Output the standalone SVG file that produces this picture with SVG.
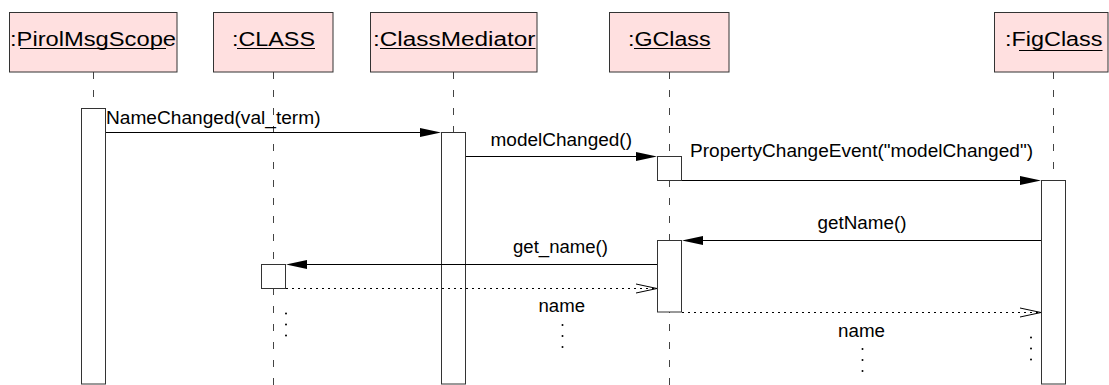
<svg xmlns="http://www.w3.org/2000/svg" width="1109" height="385" viewBox="0 0 1109 385">
  <style>
    .obj { fill: #ffe0e0; stroke: #333; stroke-width: 1; }
    .act { fill: #ffffff; stroke: #333; stroke-width: 1; }
    .life { stroke: #444; stroke-width: 1; stroke-dasharray: 7 11; fill: none; }
    .msg { stroke: #000; stroke-width: 1; fill: none; }
    .ret { stroke: #000; stroke-width: 1; fill: none; stroke-dasharray: 2 4; }
    .head { fill: #000; stroke: none; }
    .open { fill: none; stroke: #000; stroke-width: 1; }
    .ul { stroke: #000; stroke-width: 1; }
    .name { font-family: "Liberation Sans", Arial, sans-serif; font-size: 20px; fill: #000; }
    .lbl { font-family: "Liberation Sans", Arial, sans-serif; font-size: 17.5px; fill: #000; }
    .dot { fill: #000; }
  </style>

  <!-- lifelines -->
  <g id="lifelines">
    <line class="life" x1="93.5" y1="72" x2="93.5" y2="108"/>
    <line class="life" x1="273.5" y1="72" x2="273.5" y2="385"/>
    <line class="life" x1="453.5" y1="72" x2="453.5" y2="132"/>
    <line class="life" x1="669.5" y1="72" x2="669.5" y2="385"/>
    <line class="life" x1="1053.5" y1="72" x2="1053.5" y2="180"/>
  </g>

  <!-- object heads -->
  <g id="pirolMsgScope">
    <rect class="obj" x="9.5" y="12.5" width="167.5" height="59.5"/>
    <text class="name" x="10" y="46" textLength="166" lengthAdjust="spacingAndGlyphs">:PirolMsgScope</text>
    <line class="ul" x1="20" y1="48.5" x2="166" y2="48.5"/>
    <rect class="act" x="81.5" y="108.5" width="24" height="275.5"/>
  </g>

  <g id="class">
    <rect class="obj" x="213.5" y="12.5" width="119.5" height="59.5"/>
    <text class="name" x="232" y="46" textLength="83" lengthAdjust="spacingAndGlyphs">:CLASS</text>
    <line class="ul" x1="237" y1="48.5" x2="315" y2="48.5"/>
    <rect class="act" x="261.5" y="264.5" width="24" height="24"/>
  </g>

  <g id="classMediator">
    <rect class="obj" x="370.5" y="12.5" width="166.5" height="59.5"/>
    <text class="name" x="373" y="46" textLength="162.5" lengthAdjust="spacingAndGlyphs">:ClassMediator</text>
    <line class="ul" x1="380" y1="48.5" x2="535.5" y2="48.5"/>
    <rect class="act" x="441.5" y="132.5" width="24" height="251.5"/>
  </g>

  <g id="gClass">
    <rect class="obj" x="609.5" y="12.5" width="119.5" height="59.5"/>
    <text class="name" x="628" y="46" textLength="82.5" lengthAdjust="spacingAndGlyphs">:GClass</text>
    <line class="ul" x1="634" y1="48.5" x2="710.5" y2="48.5"/>
    <rect class="act" x="657.5" y="156.5" width="24" height="24"/>
    <rect class="act" x="657.5" y="240.5" width="24" height="71.5"/>
  </g>

  <g id="figClass">
    <rect class="obj" x="994.5" y="12.5" width="113.5" height="59.5"/>
    <text class="name" x="1005" y="46" textLength="97.5" lengthAdjust="spacingAndGlyphs">:FigClass</text>
    <line class="ul" x1="1019" y1="50.5" x2="1102.5" y2="50.5"/>
    <rect class="act" x="1041.5" y="180.5" width="24" height="203.5"/>
  </g>

  <!-- messages and returns -->
  <g id="connectors">
    <line class="msg" x1="106" y1="132.5" x2="421" y2="132.5"/>
    <polygon class="head" points="441,132.5 420,128 420,137"/>
    <text class="lbl" x="106" y="124" textLength="214.5" lengthAdjust="spacingAndGlyphs">NameChanged(val_term)</text>

    <line class="msg" x1="466" y1="156.5" x2="637" y2="156.5"/>
    <polygon class="head" points="657,156.5 636,152 636,161"/>
    <text class="lbl" x="490.5" y="146" textLength="141.5" lengthAdjust="spacingAndGlyphs">modelChanged()</text>

    <line class="msg" x1="682" y1="180.5" x2="1021" y2="180.5"/>
    <polygon class="head" points="1041,180.5 1020,176 1020,185"/>
    <text class="lbl" x="690" y="157" textLength="343" lengthAdjust="spacingAndGlyphs">PropertyChangeEvent("modelChanged")</text>

    <line class="msg" x1="1041" y1="240.5" x2="702" y2="240.5"/>
    <polygon class="head" points="682,240.5 703,236 703,245"/>
    <text class="lbl" x="817.5" y="229" textLength="89" lengthAdjust="spacingAndGlyphs">getName()</text>

    <line class="msg" x1="657" y1="264.5" x2="306" y2="264.5"/>
    <polygon class="head" points="286,264.5 307,260 307,269"/>
    <text class="lbl" x="513" y="253" textLength="95" lengthAdjust="spacingAndGlyphs">get_name()</text>

    <line class="ret" x1="286" y1="288.5" x2="656" y2="288.5"/>
    <polyline class="open" points="636,284 657,288.5 636,293"/>
    <text class="lbl" x="538.5" y="312" textLength="46.5" lengthAdjust="spacingAndGlyphs">name</text>

    <line class="ret" x1="682" y1="312.5" x2="1040" y2="312.5"/>
    <polyline class="open" points="1020,308 1041,312.5 1020,317"/>
    <text class="lbl" x="838" y="337" textLength="47" lengthAdjust="spacingAndGlyphs">name</text>
  </g>

  <!-- continuation dots -->
  <g id="ellipses">
    <circle class="dot" cx="286" cy="313.5" r="1"/>
    <circle class="dot" cx="286" cy="324.5" r="1"/>
    <circle class="dot" cx="286" cy="335.5" r="1"/>
    <circle class="dot" cx="562.5" cy="325" r="1"/>
    <circle class="dot" cx="562.5" cy="336" r="1"/>
    <circle class="dot" cx="562.5" cy="347" r="1"/>
    <circle class="dot" cx="862.5" cy="349" r="1"/>
    <circle class="dot" cx="862.5" cy="360" r="1"/>
    <circle class="dot" cx="862.5" cy="371" r="1"/>
    <circle class="dot" cx="1031" cy="337.5" r="1"/>
    <circle class="dot" cx="1031" cy="348.5" r="1"/>
    <circle class="dot" cx="1031" cy="359.5" r="1"/>
  </g>
</svg>
